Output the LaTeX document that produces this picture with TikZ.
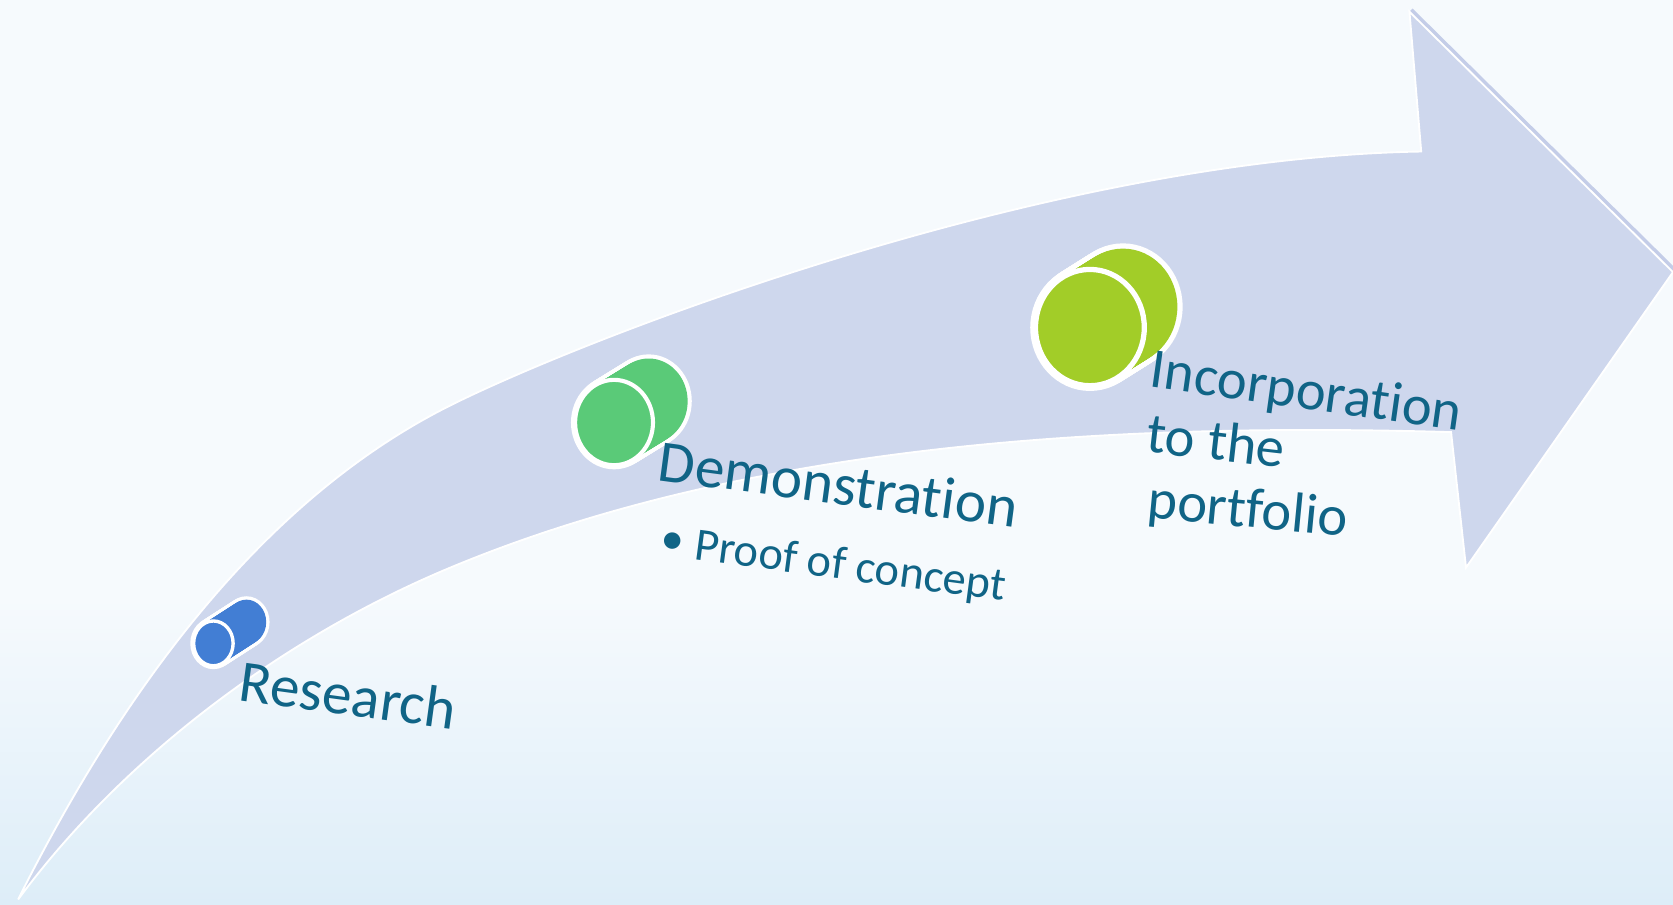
\documentclass[tikz,border=0pt]{standalone}
\usepackage{fontspec}
\setmainfont{Carlito}[Ligatures={NoCommon},RawFeature={-liga}]
\usetikzlibrary{calc}
\definecolor{textblue}{RGB}{16,100,134}
\definecolor{resblue}{RGB}{66,126,212}
\definecolor{demgreen}{RGB}{90,202,120}
\definecolor{incgreen}{RGB}{162,205,40}
\definecolor{arrowfill}{RGB}{206,215,237}
\definecolor{arrowrim}{RGB}{196,205,232}
\definecolor{bgcol}{RGB}{246,250,253}
\definecolor{bgbot}{RGB}{221,237,248}
\newcommand{\cylsketch}[6]{%
  \foreach \t in {0,0.04,...,1.0}{\draw[white,line width=2*#6] ($(#1)!\t!(#2)$) ellipse [x radius=#3,y radius=#4];}
  \foreach \t in {0,0.04,...,1.0}{\fill[#5] ($(#1)!\t!(#2)$) ellipse [x radius=#3,y radius=#4];}
  \draw[white,line width=#6,fill=#5] (#1) ellipse [x radius=#3,y radius=#4];
}
\tikzset{
  lbl/.style={text=textblue,inner sep=0pt,anchor=base west,font=\fontsize{15.8}{18}\selectfont},
  inclbl/.style={text=textblue,inner sep=0pt,anchor=base west,font=\fontsize{15.1}{18}\selectfont},
  sublbl/.style={text=textblue,inner sep=0pt,anchor=base west,font=\fontsize{12.4}{15}\selectfont},
}
\begin{document}
\begin{tikzpicture}[x=0.01cm,y=-0.01cm]
\useasboundingbox (0,0) rectangle (1568,848);
\fill[bgcol] (0,0) rectangle (1568,848);
\shade[top color=bgcol,bottom color=bgbot] (0,560) rectangle (1568,848);
% curved arrow
\coordinate (tail) at (17,843);
\coordinate (mu) at (422,380);
\coordinate (n1) at (1332,142);
\coordinate (b1) at (1321,11);
\coordinate (tip) at (1568,255);
\coordinate (b2) at (1374,532);
\coordinate (n2) at (1360,405);
\coordinate (ml) at (422,532);
\draw[arrowrim,line width=1.1pt] ($(b1)+(1.6,-1.6)$) -- ($(tip)+(1.6,-1.6)$);
\fill[arrowfill,draw=white,line width=0.5pt,line join=miter]
  (tail) .. controls (109,659) and (239,471.5) .. (mu)
         .. controls (547.2,317.4) and (980,148) .. (n1)
  -- (b1) -- (tip) -- (b2) -- (n2)
  .. controls (1050,396) and (705,414) .. (ml)
  .. controls (266,597) and (116,709) .. (tail)
  -- cycle;
% cylinders
\coordinate (rf) at (200,603); \coordinate (rb) at (231,583);
\coordinate (df) at (575.5,396); \coordinate (db) at (608,376);
\coordinate (if) at (1021.5,307); \coordinate (ib) at (1052.5,287.5);
\cylsketch{rf}{rb}{18.5}{21}{resblue}{0.9pt}
\cylsketch{df}{db}{36.5}{40}{demgreen}{1.1pt}
\cylsketch{if}{ib}{51}{54.5}{incgreen}{1.4pt}
% labels
\node[lbl,rotate=-7.8] (research) at (222,656) {Research};
\node[lbl,rotate=-7.6] (demo) at (615,450) {Demonstration};
\node[sublbl,rotate=-7.6] (proof) at (617,520) {\raisebox{0.06em}{•}\hspace{0.25em}Proof of concept};
\node[inclbl,rotate=-8] (inc1) at (1076,362.5) {Incorporation};
\node[inclbl,rotate=-6.5] (inc2) at (1073,423.5) {to the};
\node[inclbl,rotate=-5.5] (inc3) at (1074,485) {portfolio};
\end{tikzpicture}
\end{document}
